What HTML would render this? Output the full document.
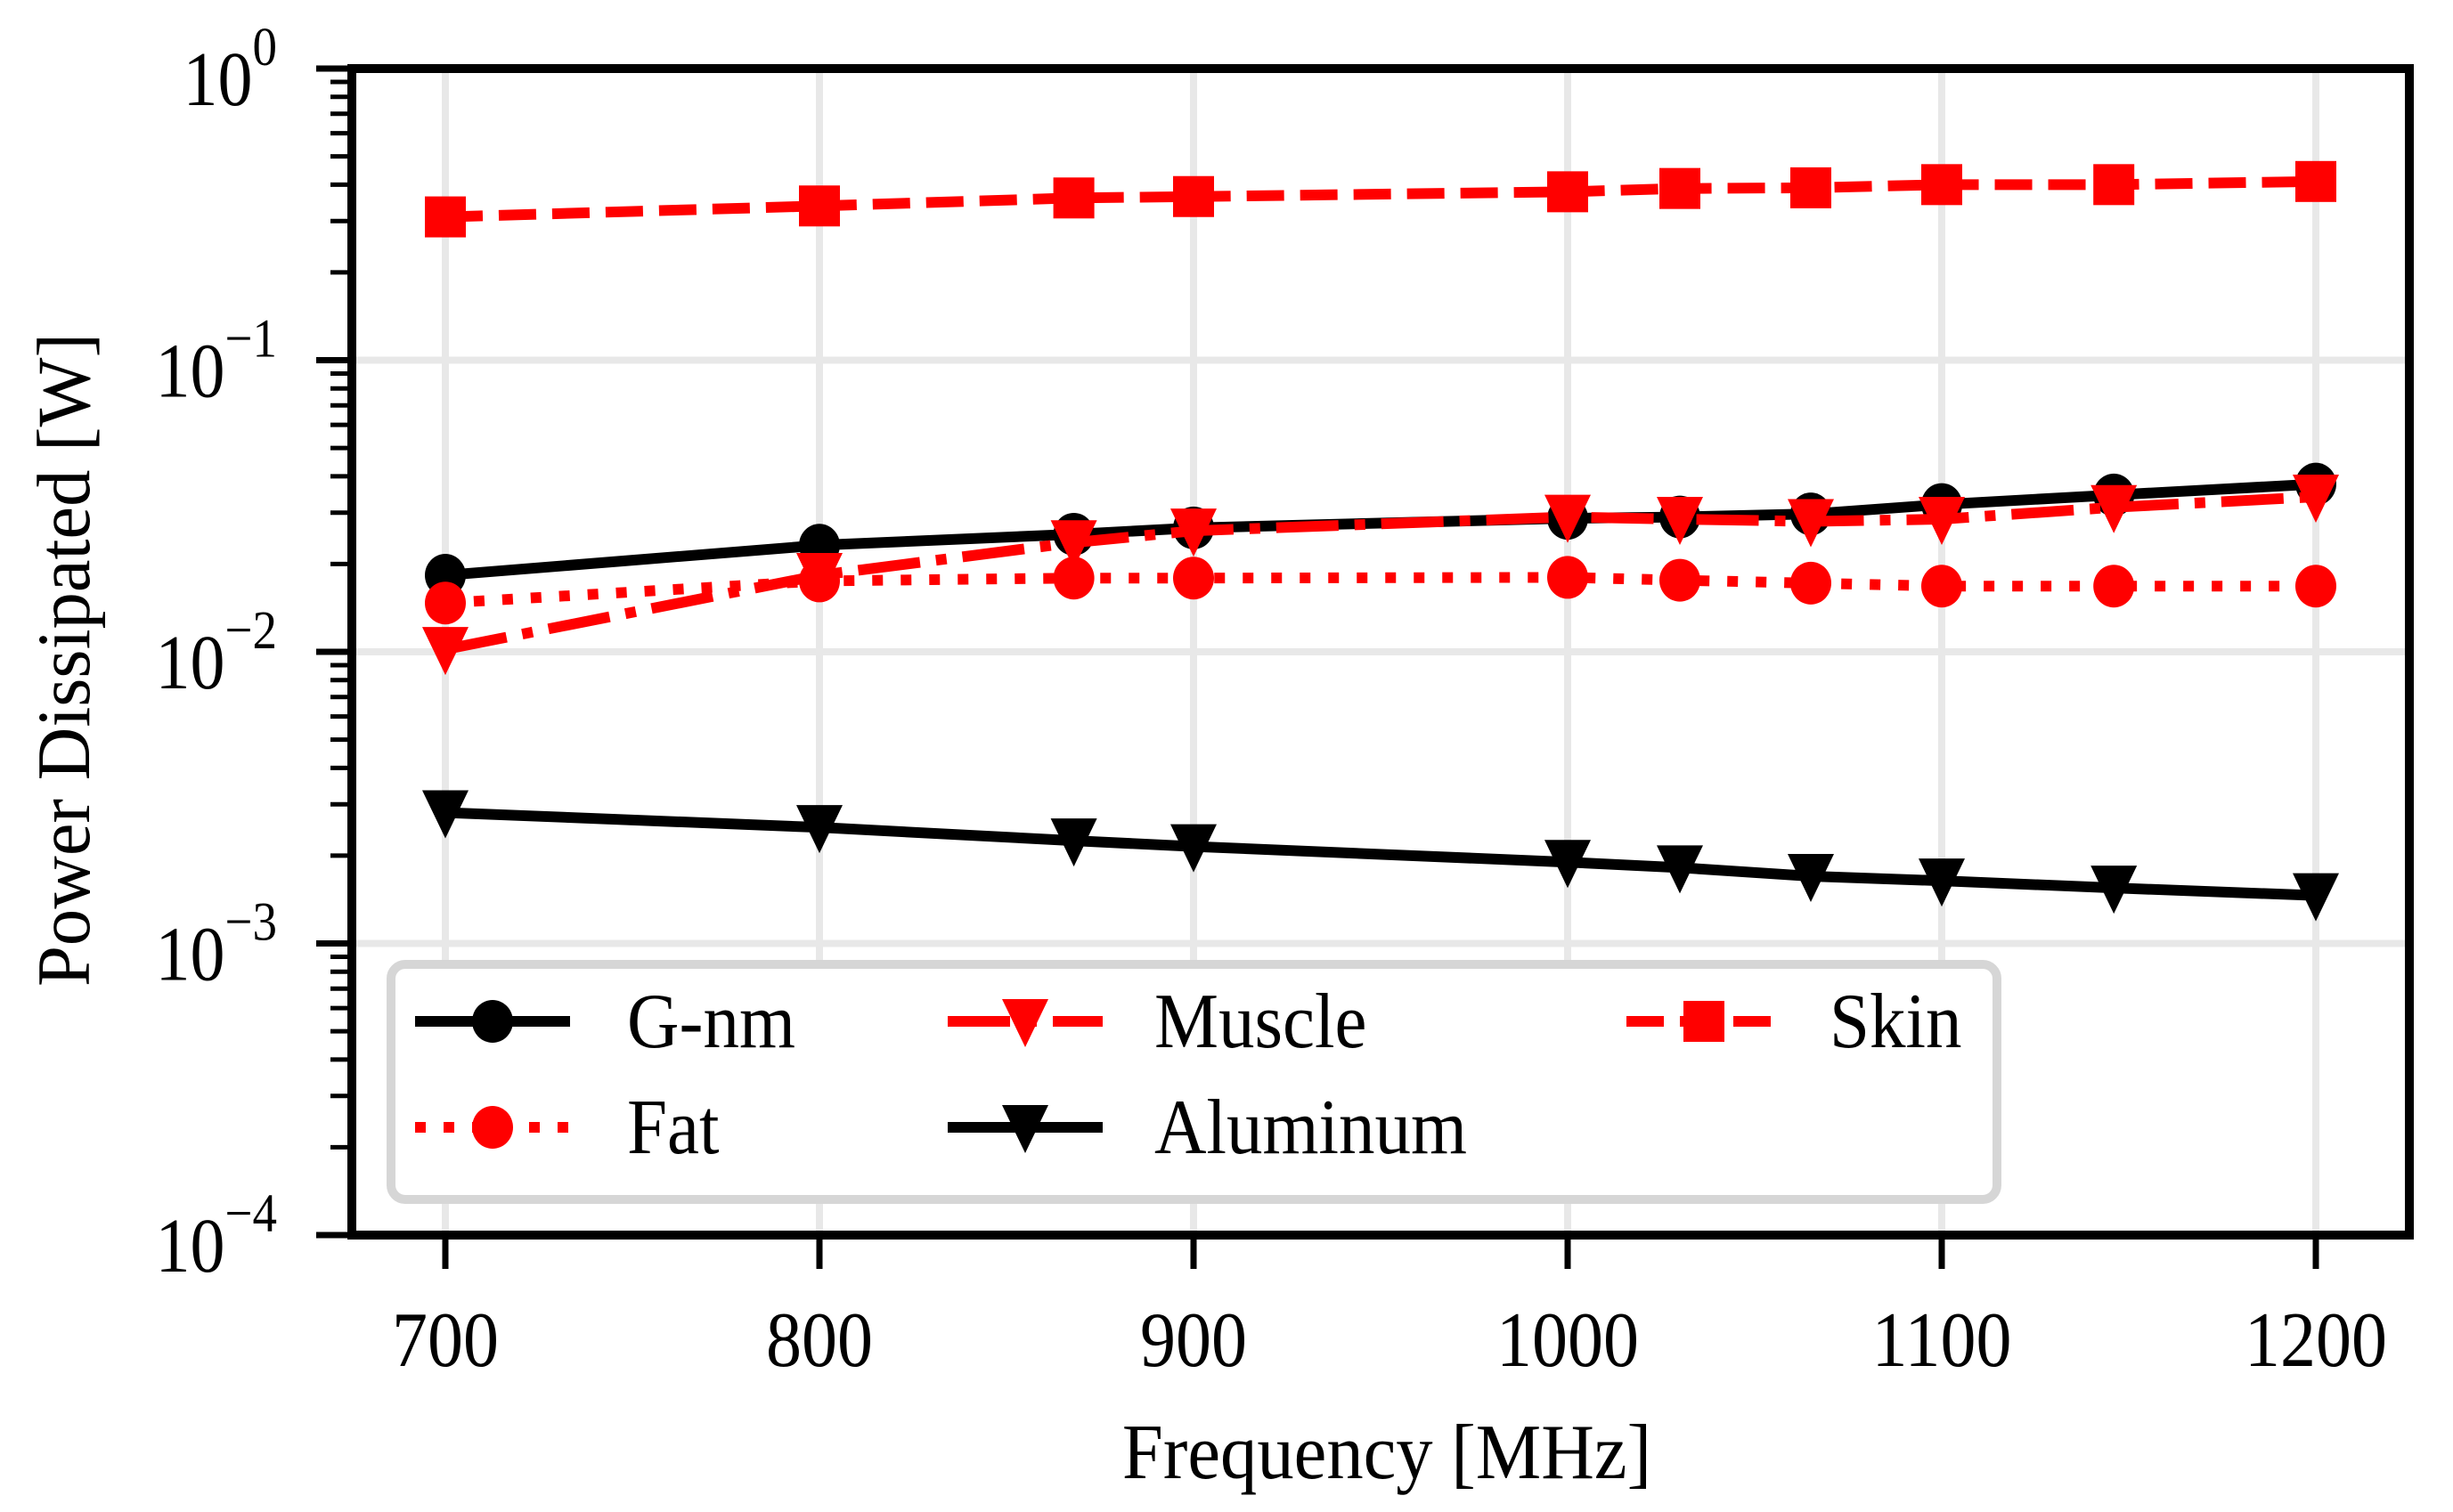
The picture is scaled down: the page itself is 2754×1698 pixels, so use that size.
<!DOCTYPE html>
<html><head><meta charset="utf-8"><style>html,body{margin:0;padding:0;background:#fff}svg{display:block}text{font-family:"Liberation Serif",serif;fill:#000}</style></head>
<body>
<svg id="chart" width="2754" height="1698" viewBox="0 0 2754 1698" xmlns="http://www.w3.org/2000/svg"></svg>
<script>
const freqs = [700, 800, 868, 900, 1000, 1030, 1065, 1100, 1146, 1200];
const gnm = [0.0183, 0.0232, 0.0253, 0.0266, 0.0287, 0.029, 0.0297, 0.032, 0.0345, 0.0376];
const fat = [0.0147, 0.0175, 0.0179, 0.0179, 0.018, 0.0176, 0.0172, 0.0168, 0.0168, 0.0168];
const muscle = [0.0102, 0.0183, 0.0237, 0.026, 0.029, 0.0285, 0.028, 0.0285, 0.0313, 0.034];
const skin = [0.31, 0.338, 0.36, 0.364, 0.378, 0.388, 0.39, 0.40, 0.40, 0.41];
const aluminum = [0.00281, 0.0025, 0.00225, 0.00215, 0.0019, 0.00182, 0.0017, 0.00164, 0.00155, 0.00146];
const xTicks = [700, 800, 900, 1000, 1100, 1200];
const yExps = [0, -1, -2, -3, -4];
const seriesNames = ["G-nm", "Fat", "Muscle", "Aluminum", "Skin"];

const NS = "http://www.w3.org/2000/svg";
const svg = document.getElementById("chart");
const L = 395, R = 2705, T = 77, B = 1387;
const xMin = 675, xMax = 1225;
const X = v => L + (v - xMin) / (xMax - xMin) * (R - L);
const Y = v => T + (-Math.log10(v)) / 4 * (B - T);

function mk(tag, attrs, parent) {
  const e = document.createElementNS(NS, tag);
  for (const k in attrs) e.setAttribute(k, attrs[k]);
  (parent || svg).appendChild(e);
  return e;
}
function txt(x, y, s, size, anchor, parent, sy, sx) {
  const g = mk("g", {transform: `translate(${x},${y}) scale(${sx || 1},${sy || 1.1})`}, parent);
  const t = mk("text", {x: 0, y: 0, "font-size": size, "text-anchor": anchor || "start"}, g);
  t.textContent = s;
  return t;
}

// gridlines
const grid = mk("g", {});


xTicks.forEach(v => mk("line", {x1: X(v), x2: X(v), y1: T, y2: B, stroke: "#e8e8e8", "stroke-width": 8}, grid));
yExps.forEach(e => mk("line", {x1: L, x2: R, y1: Y(Math.pow(10, e)), y2: Y(Math.pow(10, e)), stroke: "#e8e8e8", "stroke-width": 8}, grid));

function markerPath(type, x, y) {
  if (type === "o") return mk("ellipse", {cx: x, cy: y, rx: 23, ry: 24});
  if (type === "s") return mk("rect", {x: x - 23, y: y - 23, width: 46, height: 46});
  return mk("polygon", {points: `${x - 26},${y - 25} ${x + 26},${y - 25} ${x},${y + 29}`});
}
const specs = [
  {name: "skin", vals: skin, color: "#ff0000", dash: "42,18", m: "s"},
  {name: "aluminum", vals: aluminum, color: "#000", dash: "", m: "v"},
  {name: "muscle", vals: muscle, color: "#ff0000", dash: "70,18,12,18", m: "v"},
  {name: "fat", vals: fat, color: "#ff0000", dash: "12,20", m: "o"},
  {name: "gnm", vals: gnm, color: "#000", dash: "", m: "o"},
];
const order = [specs[4], specs[3], specs[2], specs[1], specs[0]];
order.forEach(s => {
  const g = mk("g", {});
  
  
  const pts = freqs.map((f, i) => X(f) + "," + Y(s.vals[i])).join(" ");
  const pl = mk("polyline", {points: pts, fill: "none", stroke: s.color, "stroke-width": 12, "stroke-linejoin": "round"}, g);
  if (s.dash) pl.setAttribute("stroke-dasharray", s.dash);
  freqs.forEach((f, i) => {
    const m = markerPath(s.m, X(f), Y(s.vals[i]));
    m.setAttribute("fill", s.color);
    g.appendChild(m);
    
    
  });
});

const frame = mk("rect", {x: L, y: T, width: R - L, height: B - T, fill: "none", stroke: "#000", "stroke-width": 10});



// x ticks
const xa = mk("g", {});


xTicks.forEach(v => {
  mk("line", {x1: X(v), x2: X(v), y1: B, y2: B + 38, stroke: "#000", "stroke-width": 7}, xa);
  const t = txt(X(v), 1534, String(v), 80, "middle", xa, 1.1);
  
  
});
const xl = txt(1557, 1660, "Frequency [MHz]", 81, "middle", svg, 1.09, 1.02);



// y ticks
const ya = mk("g", {});


yExps.forEach(e => {
  const y = Y(Math.pow(10, e));
  mk("line", {x1: L - 40, x2: L, y1: y, y2: y, stroke: "#000", "stroke-width": 7}, ya);
  if (e > -4) for (let k = 2; k <= 9; k++) {
    const yy = Y(k * Math.pow(10, e - 1));
    mk("line", {x1: L - 24, x2: L, y1: yy, y2: yy, stroke: "#000", "stroke-width": 5}, ya);
  }
  const sup = e === 0 ? "0" : "\u2212" + (-e);
  const g = mk("g", {transform: `translate(0,${y + 41}) scale(1,1.12)`}, ya);
  const t = mk("text", {x: 311, y: 0, "font-size": 78, "text-anchor": "end"}, g);
  
  
  const t1 = mk("tspan", {}, t); t1.textContent = "10";
  const t2 = mk("tspan", {dy: -40, "font-size": 55}, t); t2.textContent = sup;
});
const yg = mk("g", {transform: "translate(100,741) rotate(-90) scale(1.02,1.05)"});
const yl = mk("text", {x: 0, y: 0, "font-size": 81, "text-anchor": "middle"}, yg);
yl.textContent = "Power Dissipated [W]";



// legend
const lg = mk("g", {});


mk("rect", {x: 439, y: 1083, width: 1803, height: 264, rx: 16, fill: "#fff", stroke: "#d6d6d6", "stroke-width": 10}, lg);
const legendItems = [
  {label: seriesNames[0], s: specs[4], x: 466, tx: 704, y: 1147},
  {label: seriesNames[1], s: specs[3], x: 466, tx: 704, y: 1266},
  {label: seriesNames[2], s: specs[2], x: 1064, tx: 1296, y: 1147},
  {label: seriesNames[3], s: specs[1], x: 1064, tx: 1296, y: 1266},
  {label: seriesNames[4], s: specs[0], x: 1826, tx: 2054, y: 1147},
];
legendItems.forEach(it => {
  const g = mk("g", {}, lg);
  
  
  const ln = mk("line", {x1: it.x, x2: it.x + 174, y1: it.y, y2: it.y, stroke: it.s.color, "stroke-width": 12}, g);
  if (it.s.dash) ln.setAttribute("stroke-dasharray", it.s.dash);
  const m = markerPath(it.s.m, it.x + 87, it.y);
  m.setAttribute("fill", it.s.color);
  g.appendChild(m);
  txt(it.tx, it.y + 29, it.label, 81, "start", g, 1.09);
});
</script>
</body></html>
